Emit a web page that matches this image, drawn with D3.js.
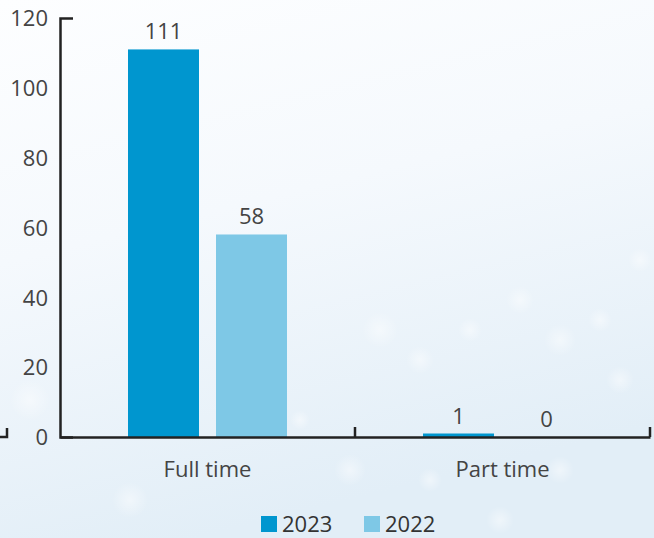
<!DOCTYPE html>
<html><head><meta charset="utf-8">
<script src="https://cdn.jsdelivr.net/npm/d3@7"></script>
<style>html,body{margin:0;padding:0;background:#fff;}svg{display:block;}</style>
</head><body>
<script>
const categories = ["Full time", "Part time"];
const seriesNames = ["2023", "2022"];
const values2023 = [111, 1];
const values2022 = [58, 0];
const yTicks = [0, 20, 40, 60, 80, 100, 120];
const colors = ["#0096cf", "#7ec8e6"];

const W = 654, H = 538;
const svg = d3.select("body").append("svg").attr("width", W).attr("height", H);
const defs = svg.append("defs");
const lg = defs.append("linearGradient").attr("id","bg").attr("x1","0").attr("y1","0").attr("x2","0.3").attr("y2","1");
lg.append("stop").attr("offset","0").attr("stop-color","#fdfeff");
lg.append("stop").attr("offset","0.45").attr("stop-color","#f5f9fd");
lg.append("stop").attr("offset","1").attr("stop-color","#e2eef7");
svg.append("rect").attr("width",W).attr("height",H).attr("fill","url(#bg)");
const rg = defs.append("radialGradient").attr("id","blob");
rg.append("stop").attr("offset","0").attr("stop-color","#ffffff").attr("stop-opacity",0.45);
rg.append("stop").attr("offset","1").attr("stop-color","#ffffff").attr("stop-opacity",0);
const blobs = [[380,330,18],[420,360,14],[470,330,12],[520,300,14],[560,340,16],[600,320,12],[620,380,14],[350,470,16],[430,480,12],[560,470,14],[300,420,10],[640,260,12],[500,520,14],[130,500,18],[30,400,20]];
svg.append("g").selectAll("circle").data(blobs).join("circle")
  .attr("cx",d=>d[0]).attr("cy",d=>d[1]).attr("r",d=>d[2]).attr("fill","url(#blob)");

const font = "'Open Sans', 'Noto Sans', sans-serif";
const textColor = "#444";

const x0 = d3.scaleBand().domain(categories).range([60, 650]).paddingInner(0).paddingOuter(0);
const x1 = d3.scaleBand().domain(seriesNames).range([68, 227]).paddingInner(17/88).paddingOuter(0);
const y = d3.scaleLinear().domain([0, 120]).range([437, 18]);

const data = categories.map((c,i)=>({cat:c, vals:[{s:"2023",v:values2023[i]},{s:"2022",v:values2022[i]}]}));

const g = svg.append("g");
const groups = g.selectAll("g.cat").data(data).join("g").attr("transform", d=>`translate(${x0(d.cat)},0)`);
groups.selectAll("rect").data(d=>d.vals).join("rect")
  .attr("x", d=>x1(d.s)).attr("width", x1.bandwidth())
  .attr("y", d=>y(d.v)).attr("height", d=>y(0)-y(d.v))
  .attr("fill", (d,i)=>colors[i]);
groups.selectAll("text").data(d=>d.vals).join("text")
  .attr("x", d=>x1(d.s)+x1.bandwidth()/2).attr("y", d=>y(d.v)-10)
  .attr("text-anchor","middle").attr("font-family",font).attr("font-size",22)
  .attr("fill",textColor).text(d=>d.v);

// y axis
const yAxis = d3.axisLeft(y).tickValues(yTicks).tickSize(0).tickSizeOuter(-13).tickPadding(12);
const ya = svg.append("g").attr("transform","translate(60,0)").call(yAxis);
ya.select(".domain").attr("stroke","#222").attr("stroke-width",2.5).attr("fill","none");
ya.selectAll("text").attr("font-family",font).attr("font-size",22).attr("fill",textColor).attr("dy","0.35em");

// x axis
const xAxis = d3.axisBottom(x0).tickSize(0).tickSizeOuter(0).tickPadding(24);
const xa = svg.append("g").attr("transform","translate(0,437)").call(xAxis);
xa.select(".domain").attr("stroke","#222").attr("stroke-width",2.5);
xa.selectAll("text").attr("font-family",font).attr("font-size",22).attr("fill",textColor);
// category boundary ticks
xa.selectAll("line.bt").data([x0(categories[1]), x0.range()[1]]).join("line").attr("class","bt")
  .attr("x1",d=>d).attr("x2",d=>d).attr("y1",0).attr("y2",-10).attr("stroke","#222").attr("stroke-width",2.5);
// clipped fragment at left edge
xa.append("path").attr("d","M0,0H7V-9").attr("fill","none").attr("stroke","#222").attr("stroke-width",2.5);

// legend
const leg = svg.append("g").attr("transform","translate(261,516)");
const li = leg.selectAll("g").data(seriesNames).join("g").attr("transform",(d,i)=>`translate(${i*103},0)`);
li.append("rect").attr("width",16).attr("height",16).attr("fill",(d,i)=>colors[i]);
li.append("text").attr("x",21).attr("y",16).attr("font-family",font).attr("font-size",22).attr("fill","#333").text(d=>d);
</script>
</body></html>
